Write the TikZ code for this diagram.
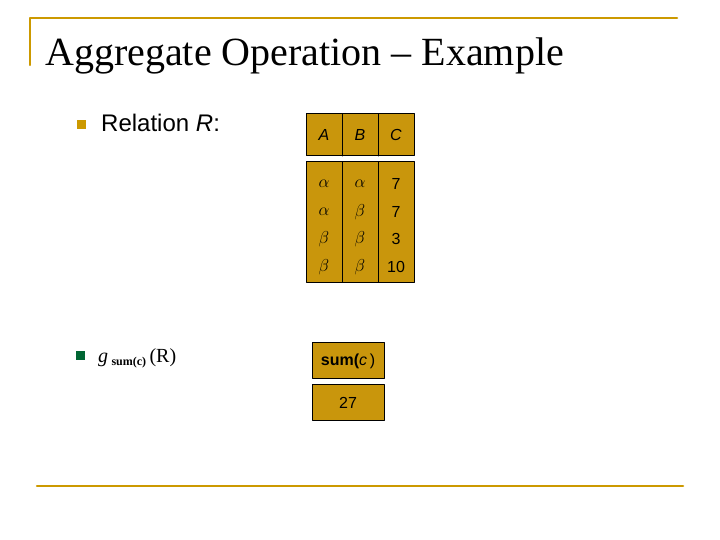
\documentclass[tikz,border=0pt]{standalone}
\usepackage{fontspec}
\setmainfont{Liberation Serif}
\newfontfamily\arialfont{Liberation Sans}
\usetikzlibrary{calc}
\definecolor{gold}{RGB}{204,153,0}
\definecolor{cellfill}{RGB}{201,150,12}
\definecolor{darkgreen}{RGB}{0,102,51}
\begin{document}
\begin{tikzpicture}[x=1pt, y=-1pt, line cap = round, line join = round]
\tikzstyle{cellbox}=[draw=black, fill=cellfill, line width=1pt]
\tikzstyle{cell}=[font=\arialfont\fontsize{16}{18}\selectfont, inner sep=0pt]
\tikzstyle{bullet}=[fill, minimum size=9pt, inner sep=0pt]
\useasboundingbox (0,0) rectangle (720,540);
% frame lines
\draw[gold, line width=2.5pt] (30,65) -- (30,18) -- (677,18);
\draw[gold, line width=2.5pt] (37,486) -- (683,486);
\node[anchor=base west, inner sep=0pt, font=\fontsize{40}{44}\selectfont] (title) at (45,66) {Aggregate Operation -- Example};
% bullets
\node[bullet, gold] (b1) at (81,125) {};
\node[anchor=base west, inner sep=0pt, font=\arialfont\fontsize{24}{28}\selectfont] (rel) at (101,132) {Relation \textit{R}:};
\node[bullet, darkgreen] (b2) at (80,355) {};
\node[anchor=base west, inner sep=0pt, font=\fontsize{20}{24}\selectfont] (agg) at (98,362) {$\mathit{g}$\,{\fontsize{12}{14}\selectfont\raisebox{-3pt}{\bfseries sum(c)}}\,(R)};
% table
\draw[cellbox] (306,114) rectangle (414,156);
\draw[cellbox] (306,162) rectangle (414,282);
\foreach \xx in {342,378} {
  \draw[line width=1pt] (\xx,114) -- (\xx,156);
  \draw[line width=1pt] (\xx,162) -- (\xx,282);
}
\node[cell] (hA) at (324,135) {\textit{A}};
\node[cell] (hB) at (360,135) {\textit{B}};
\node[cell] (hC) at (396,135) {\textit{C}};
\foreach \a/\b/\c/\yy in {\alpha/\alpha/7/184, \alpha/\beta/7/212, \beta/\beta/3/239, \beta/\beta/10/267} {
  \node[cell] at (324,\yy) {$\a$};
  \node[cell] at (360,\yy) {$\b$};
  \node[cell] at (396,\yy) {\c};
}
% result
\draw[cellbox] (312,342) rectangle (384,378);
\draw[cellbox] (312,384) rectangle (384,420);
\node[cell] (sumc) at (348,361) {\textbf{sum(}\textit{c}\,)};
\node[cell] (res) at (348,403) {27};
\end{tikzpicture}
\end{document}
